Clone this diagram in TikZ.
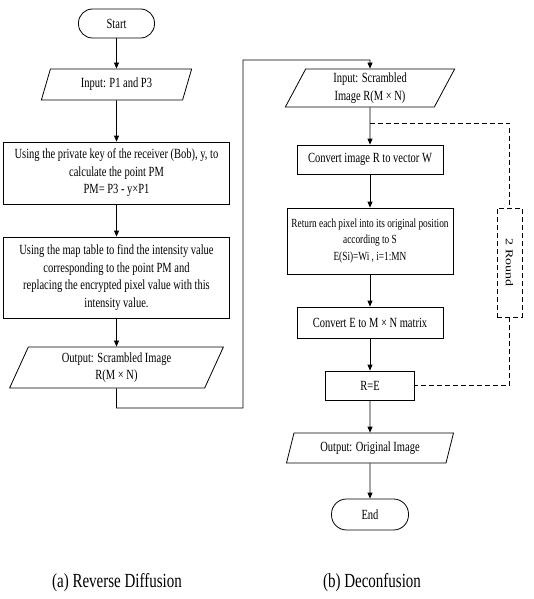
\documentclass[tikz,border=0pt]{standalone}
\usepackage{fontspec}
\setmainfont[FakeStretch=0.75]{Liberation Serif}
\newfontfamily\plainserif{Liberation Serif}
\usetikzlibrary{shapes.geometric,arrows.meta}
\begin{document}
\begin{tikzpicture}[x=1pt,y=-1pt,
  every node/.style={font=\fontsize{14}{17.5}\selectfont, align=center, inner sep=0pt},
  base/.style={draw, line width=0.8pt},
  box/.style={base, rectangle},
  term/.style={base, rectangle, rounded corners=14pt},
  io/.style={base, trapezium, trapezium left angle=69, trapezium right angle=111, trapezium stretches=true},
  flow/.style={line width=0.8pt, -{Triangle[length=6pt,width=5pt]}},
  loopline/.style={line width=0.8pt, dash pattern=on 5pt off 3pt},
  captxt/.style={font=\fontsize{20}{24}\selectfont}
]
\useasboundingbox (0,0) rectangle (533,599);

% left column
\node[term, minimum width=76pt, minimum height=29pt] (start) at (116.5,23.5) {Start};
\node[io, minimum width=151pt, minimum height=31pt] (in1) at (116.5,84.5) {Input: P1 and P3};
\node[box, minimum width=226pt, minimum height=62pt] (b1) at (116.5,173) {Using the private key of the receiver (Bob), y, to\\ calculate the point PM\\ PM= P3 - y×P1};
\node[box, minimum width=226pt, minimum height=81pt] (b2) at (116.5,277.5) {Using the map table to find the intensity value\\ corresponding to the point PM and\\ replacing the encrypted pixel value with this\\ intensity value.};
\node[io, minimum width=214pt, minimum height=41pt] (out1) at (116.5,367.5) {Output: Scrambled Image\\ R(M × N)};

% right column
\node[io, minimum width=170pt, minimum height=38pt] (in2) at (370,88) {Input: Scrambled\\ Image R(M × N)};
\node[box, minimum width=146pt, minimum height=29pt] (c1) at (370,159.5) {Convert image R to vector W};
\node[box, minimum width=166pt, minimum height=66pt, font=\fontsize{12.4}{16.5}\selectfont] (ret) at (370,241) {Return each pixel into its original position\\ according to S\\ E(Si)=Wi , i=1:MN};
\node[box, minimum width=146pt, minimum height=31pt] (c2) at (370,322.5) {Convert E to M × N matrix};
\node[box, minimum width=89pt, minimum height=29pt] (re) at (370,385.5) {R=E};
\node[io, minimum width=167pt, minimum height=30pt] (out2) at (370,448) {Output: Original Image};
\node[term, minimum width=77pt, minimum height=31pt, rounded corners=15pt] (end) at (370,514.5) {End};

\node[draw, line width=0.8pt, dash pattern=on 5pt off 3pt, minimum width=25pt, minimum height=109pt] (round) at (509.5,262.5) {\rotatebox{-90}{\plainserif\fontsize{14}{16}\selectfont\scalebox{1}[0.75]{2 Round}}};

% connectors
\draw[flow] (start) -- (in1);
\draw[flow] (in1) -- (b1);
\draw[flow] (b1) -- (b2);
\draw[flow] (b2) -- (out1);
\coordinate (k1) at (116.5,408);
\coordinate (k2) at (243,60);
\draw[flow] (out1.south) -- (k1) -| (k2) -| (in2.north);

\draw[flow] (in2) -- (c1);
\draw[flow] (c1) -- (ret);
\draw[flow] (ret) -- (c2);
\draw[flow] (c2) -- (re);
\draw[flow] (re) -- (out2);
\draw[flow] (out2) -- (end);

\coordinate (j) at (370,123);
\draw[loopline] (j) -- (j -| round.north) -- (round.north);
\draw[loopline] (round.south) -- (round.south |- re.east) -- (re.east);

% captions
\node[captxt] (capa) at (117,583) {(a) Reverse Diffusion};
\node[captxt] (capb) at (372,583) {(b) Deconfusion};
\end{tikzpicture}
\end{document}
